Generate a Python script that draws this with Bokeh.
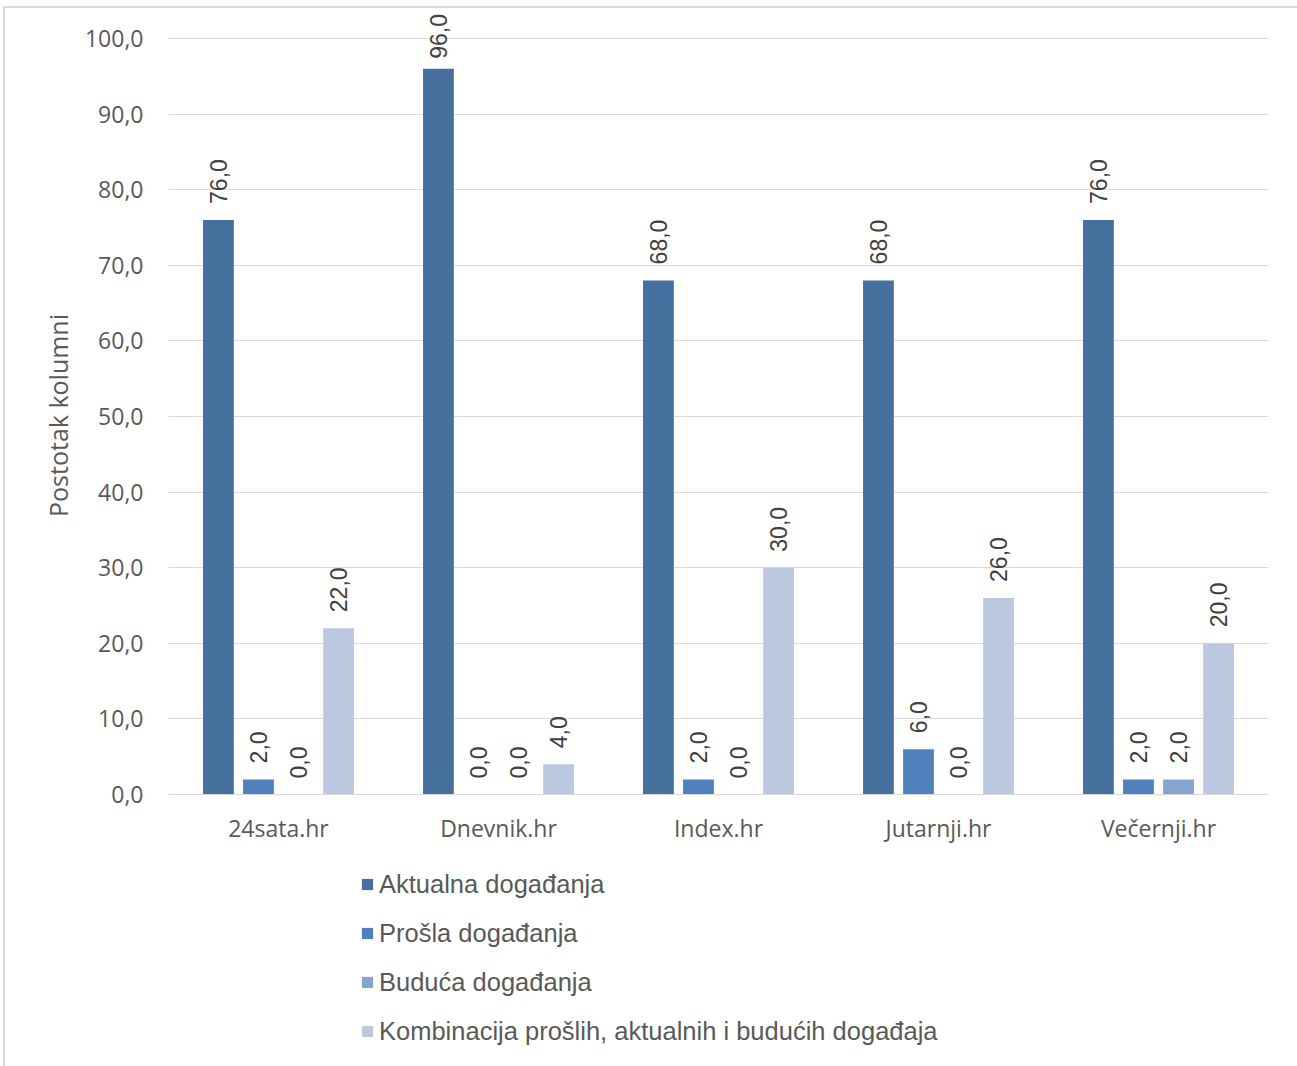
from bokeh.plotting import figure
from bokeh.layouts import column
from bokeh.models import FactorRange, FixedTicker, Legend, LegendItem, ColumnDataSource, Range1d
from bokeh.transform import dodge
from bokeh.core.properties import value
from bokeh.embed import file_html
from bokeh.resources import INLINE
import math

categories = ["24sata.hr", "Dnevnik.hr", "Index.hr", "Jutarnji.hr", "Večernji.hr"]
series_names = ["Aktualna događanja", "Prošla događanja", "Buduća događanja",
                "Kombinacija prošlih, aktualnih i budućih događaja"]
aktualna = [76.0, 96.0, 68.0, 68.0, 76.0]
prosla = [2.0, 0.0, 2.0, 6.0, 2.0]
buduca = [0.0, 0.0, 0.0, 0.0, 2.0]
kombinacija = [22.0, 4.0, 30.0, 26.0, 20.0]
y_ticks = [0, 10, 20, 30, 40, 50, 60, 70, 80, 90, 100]

series = [aktualna, prosla, buduca, kombinacija]
colors = ["#46709E", "#4F81BD", "#87A3CF", "#BCC8E0"]
offsets = [-0.273, -0.091, 0.091, 0.273]

FONT = "Liberation Sans"
FONT2 = "Open Sans"
TXT = "#595959"
Y_MAX = 103.7

W = 1292
p = figure(x_range=FactorRange(*categories), y_range=Range1d(0, Y_MAX),
           width=W, height=852, output_backend="svg", toolbar_location=None,
           min_border_left=163, min_border_right=29, min_border_top=2, min_border_bottom=66)
p.x_range.range_padding = 0

for name, vals, col, off in zip(series_names, series, colors, offsets):
    src = ColumnDataSource(dict(cat=categories, v=vals,
                                lab=[f"{x:.1f}".replace(".", ",") for x in vals],
                                # labels near the top are pulled closer to the bar (kept inside the plot)
                                yo=[-10 if x > 90 else -16 for x in vals]))
    p.vbar(x=dodge("cat", off, range=p.x_range), top="v", bottom=0, width=0.14,
           source=src, fill_color=col, line_color=None)
    p.text(x=dodge("cat", off, range=p.x_range), y="v", text="lab", source=src,
           angle=math.pi / 2, text_align="left", text_baseline="middle",
           y_offset="yo", text_font=value(FONT), text_font_size="23px",
           text_color="#404040")

p.yaxis.ticker = FixedTicker(ticks=y_ticks)
p.yaxis.major_label_overrides = {t: f"{t:.1f}".replace(".", ",") for t in y_ticks}
p.yaxis.axis_line_color = None
p.yaxis.major_tick_line_color = None
p.yaxis.minor_tick_line_color = None
p.yaxis.major_label_text_font = FONT2
p.yaxis.major_label_text_font_size = "23px"
p.yaxis.major_label_text_color = TXT
p.yaxis.major_label_standoff = 19
p.yaxis.axis_label = "Postotak kolumni" + "\u00a0" * 4
p.yaxis.axis_label_text_font = FONT2
p.yaxis.axis_label_text_font_style = "normal"
p.yaxis.axis_label_text_font_size = "25px"
p.yaxis.axis_label_text_color = TXT
p.yaxis.axis_label_standoff = 7

p.xaxis.axis_line_color = "#D9D9D9"
p.xaxis.axis_line_width = 1
p.xaxis.major_tick_line_color = None
p.xaxis.minor_tick_line_color = None
p.xaxis.major_label_text_font = FONT2
p.xaxis.major_label_text_font_size = "23px"
p.xaxis.major_label_text_color = TXT
p.xaxis.major_label_standoff = 11

p.xgrid.grid_line_color = None
p.ygrid.grid_line_color = "#D9D9D9"
p.outline_line_color = None

# legend panel below the chart
p2 = figure(width=W, height=206, output_backend="svg", toolbar_location=None,
            x_axis_location=None, y_axis_location=None,
            min_border_left=0, min_border_right=0, min_border_top=0, min_border_bottom=0,
            x_range=Range1d(0, 1), y_range=Range1d(0, 1))
p2.grid.visible = False
p2.outline_line_color = None
items = []
for name, col in zip(series_names, colors):
    # legend swatch renderer; its bar lies entirely outside the visible ranges
    r = p2.vbar(x=[-10], top=[-5], bottom=[-6], width=0.1, fill_color=col, line_color=None)
    items.append(LegendItem(label=name, renderers=[r]))
legend = Legend(items=items, location=(192, 20), orientation="vertical",
                label_text_font=FONT, label_text_font_size="25.5px",
                label_text_color=TXT, glyph_width=14, glyph_height=14,
                label_height=30, spacing=19, padding=0, margin=0,
                border_line_color=None, background_fill_alpha=0,
                label_standoff=5)
p2.add_layout(legend, "center")

layout = column(p, p2, spacing=0)
layout.styles = {"margin-left": "3px", "margin-top": "6px",
                 "border-left": "2px solid #D9D9D9", "border-top": "2px solid #D9D9D9"}

open("out.html", "w").write(file_html(layout, INLINE))
